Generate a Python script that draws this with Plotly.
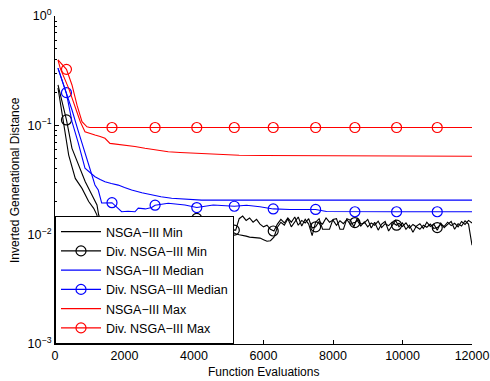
import plotly.graph_objects as go

# ---------------- data ----------------
# Function evaluations / IGD values

# NSGA-III Max (plain red)
max_x = [86, 152, 394, 584, 728, 863, 1000, 1150, 1300, 1438, 1582, 1800, 2013, 2300, 2588, 2900, 3258, 3600, 4026, 4314, 4800, 5300, 6000, 7000, 8000, 9000, 10000, 11000, 12000]
max_y = [0.396, 0.332, 0.218, 0.143, 0.108, 0.0873, 0.0840, 0.0815, 0.0790, 0.0761, 0.0684, 0.0672, 0.0662, 0.0640, 0.0617, 0.0598, 0.0574, 0.0565, 0.0556, 0.0545, 0.0538, 0.0532, 0.0529, 0.0527, 0.0525, 0.0524, 0.0523, 0.0522, 0.0521]

# Div. NSGA-III Max (red with markers)
dmax_x = [86, 330, 489, 633, 777, 920, 1000, 12000]
dmax_y = [0.396, 0.325, 0.234, 0.153, 0.108, 0.0970, 0.0955, 0.0955]

# NSGA-III Median (plain blue)
med_x = [86, 200, 330, 489, 661, 863, 1007, 1150, 1300, 1438, 1620, 1820, 2000, 2206, 2500, 2781, 3050, 3356, 3800, 4219, 5000, 6000, 8000, 10000, 12000]
med_y = [0.334, 0.262, 0.195, 0.108, 0.0707, 0.0406, 0.0372, 0.0339, 0.0320, 0.0305, 0.0294, 0.0284, 0.0270, 0.0256, 0.0242, 0.0230, 0.0222, 0.0215, 0.0210, 0.0207, 0.0207, 0.0207, 0.0207, 0.0207, 0.0207]

# Div. NSGA-III Median (blue with markers)
dmed_x = [86, 330, 489, 661, 863, 1007, 1150, 1245, 1343, 1640, 1918, 2100, 2301, 2396, 2600, 2781, 2880, 3258, 3739, 4080, 4553, 5160, 5513, 5896, 6280, 6759, 7500, 7814, 8630, 9000, 9830, 11000, 12000]
dmed_y = [0.334, 0.199, 0.138, 0.0905, 0.0558, 0.0390, 0.0285, 0.0256, 0.0195, 0.0196, 0.0162, 0.0164, 0.0162, 0.0175, 0.0172, 0.0177, 0.0186, 0.0194, 0.0187, 0.0177, 0.0187, 0.0182, 0.0186, 0.0180, 0.0172, 0.0170, 0.0170, 0.0163, 0.0162, 0.0161, 0.0162, 0.0162, 0.0162]

# NSGA-III Min (plain black)
min_x_early = [86, 200, 394, 584, 777, 969, 1113, 1208, 1257, 1290, 2000, 3000, 4000, 5000]
min_y_early = [0.22, 0.13, 0.0535, 0.0327, 0.0265, 0.0201, 0.0174, 0.0151, 0.0106, 0.0090, 0.0088, 0.0087, 0.0089, 0.0095]
min_y_late = [0.0106, 0.0102, 0.0100, 0.0099, 0.0097, 0.0095, 0.0094, 0.0094, 0.0093, 0.0090,
              0.0087, 0.0088, 0.0095, 0.0117, 0.0130, 0.0122, 0.0140, 0.0118, 0.0132, 0.0145,
              0.0120, 0.0138, 0.0125, 0.0098, 0.0130, 0.0140, 0.0112, 0.0112, 0.0112, 0.0138,
              0.0140, 0.0112, 0.0112, 0.0140, 0.0136, 0.0118, 0.0142, 0.0125, 0.0128, 0.0138,
              0.0115, 0.0130, 0.0110, 0.0125, 0.0132, 0.0108, 0.0120, 0.0135, 0.0118, 0.0128,
              0.0112, 0.0122, 0.0105, 0.0120, 0.0126, 0.0114, 0.0130, 0.0119, 0.0125, 0.0110,
              0.0128, 0.0116, 0.0124, 0.0132, 0.0112, 0.0126, 0.0120, 0.0134, 0.0125, 0.0080]
min_x_late = list(range(5100, 12001, 100))

# Div. NSGA-III Min (black with markers)
dmin_x_early = [86, 200, 330, 489, 682, 871, 1064, 1208, 1257, 1352, 1496, 1640, 2000, 2500, 2880, 3000, 3100, 3200, 3300, 3400]
dmin_y_early = [0.235, 0.165, 0.112, 0.0616, 0.0434, 0.0305, 0.0231, 0.0187, 0.0151, 0.0131, 0.0118, 0.0104, 0.0102, 0.0100, 0.0098, 0.0104, 0.0108, 0.0112, 0.0110, 0.0113]
dmin_y_late = [0.0112, 0.0128, 0.0133, 0.0130, 0.0140, 0.0142, 0.0141, 0.0128, 0.0133, 0.0122,
               0.0130, 0.0125, 0.0135, 0.0120, 0.0132, 0.0125, 0.0115, 0.0110, 0.0140, 0.0148,
               0.0135, 0.0142, 0.0130, 0.0138, 0.0125, 0.0118, 0.0122, 0.0112, 0.0108, 0.0125,
               0.0138, 0.0128, 0.0142, 0.0130, 0.0145, 0.0122, 0.0135, 0.0128, 0.0140, 0.0115,
               0.0118, 0.0132, 0.0125, 0.0142, 0.0130, 0.0136, 0.0122, 0.0134, 0.0126, 0.0138,
               0.0124, 0.0129, 0.0135, 0.0120, 0.0131, 0.0118, 0.0128, 0.0122, 0.0133, 0.0116,
               0.0126, 0.0121, 0.0130, 0.0122, 0.0127, 0.0119, 0.0128, 0.0115, 0.0124, 0.0118,
               0.0112, 0.0122, 0.0117, 0.0125, 0.0114, 0.0116, 0.0124, 0.0119, 0.0130, 0.0121,
               0.0127, 0.0118, 0.0132, 0.0124, 0.0135, 0.0128]
dmin_x_late = list(range(3500, 12001, 100))

# marker positions (function evaluations) shared by all Div. NSGA-III curves
mark_x = [330, 1640, 2880, 4080, 5160, 6280, 7500, 8630, 9830, 11000]
dmax_mark_y = [0.325, 0.0955, 0.0955, 0.0955, 0.0955, 0.0955, 0.0955, 0.0955, 0.0955, 0.0955]
dmed_mark_y = [0.199, 0.0196, 0.0186, 0.0177, 0.0182, 0.0172, 0.0170, 0.0162, 0.0162, 0.0162]
dmin_mark_y = [0.112, 0.0104, 0.0098, 0.0141, 0.0110, 0.0108, 0.0118, 0.0129, 0.0122, 0.0116]

labels = ["NSGA\u2212III Min", "Div. NSGA\u2212III Min", "NSGA\u2212III Median",
          "Div. NSGA\u2212III Median", "NSGA\u2212III Max", "Div. NSGA\u2212III Max"]

ytick_vals = [0.001, 0.01, 0.1, 1]
ytick_text = ["10<sup>\u22123</sup>", "10<sup>\u22122</sup>", "10<sup>\u22121</sup>", "10<sup>0</sup>"]
xtick_vals = [0, 2000, 4000, 6000, 8000, 10000, 12000]
xtick_text = ["0", "2000", "4000", "6000", "8000", "10000", "12000"]

# ---------------- figure ----------------
BLACK, BLUE, RED = "#000000", "#0000ff", "#ff0000"
LW = 1.1
MS = 10


def merged(xa, ya, xm, ym):
    pts = sorted(set(zip(xa, ya)) | set(zip(xm, ym)))
    return [p[0] for p in pts], [p[1] for p in pts]


fig = go.Figure()

min_x = min_x_early + min_x_late
min_y = min_y_early + min_y_late
dmin_x, dmin_y = merged(dmin_x_early + dmin_x_late, dmin_y_early + dmin_y_late, mark_x, dmin_mark_y)


def add_series(x, y, color, name, rank, mx=None, my=None):
    if mx is None:
        fig.add_trace(go.Scatter(x=x, y=y, mode="lines", name=name, legendrank=rank,
                                 line=dict(color=color, width=LW)))
    else:
        fig.add_trace(go.Scatter(x=x, y=y, mode="lines", showlegend=False, hoverinfo="skip",
                                 line=dict(color=color, width=LW)))
        fig.add_trace(go.Scatter(x=mx, y=my, mode="markers", showlegend=False,
                                 marker=dict(symbol="circle-open", size=MS, color=color,
                                             line=dict(width=1.2, color=color))))
        fig.add_trace(go.Scatter(x=[None], y=[None], mode="lines+markers", name=name, legendrank=rank,
                                 line=dict(color=color, width=LW),
                                 marker=dict(symbol="circle-open", size=MS, color=color,
                                             line=dict(width=1.2, color=color))))


add_series(min_x, min_y, BLACK, labels[0], 1)
add_series(dmin_x, dmin_y, BLACK, labels[1], 2, mark_x, dmin_mark_y)
add_series(med_x, med_y, BLUE, labels[2], 3)
add_series(dmed_x, dmed_y, BLUE, labels[3], 4, mark_x, dmed_mark_y)
add_series(max_x, max_y, RED, labels[4], 5)
add_series(dmax_x, dmax_y, RED, labels[5], 6, mark_x, dmax_mark_y)

FONT = "Liberation Sans, Arial, Helvetica, sans-serif"

fig.update_layout(
    width=490, height=381,
    margin=dict(l=55, r=18, t=16, b=37, pad=0, autoexpand=False),
    paper_bgcolor="white", plot_bgcolor="white",
    font=dict(family=FONT, size=12, color="black"),
    showlegend=True,
    legend=dict(x=0, y=0, xanchor="left", yanchor="bottom",
                bgcolor="white", bordercolor="black", borderwidth=1,
                font=dict(family=FONT, size=12.5, color="black"),
                itemwidth=40, tracegroupgap=0),
    xaxis=dict(range=[0, 12000], tickvals=xtick_vals, ticktext=xtick_text, ticks="inside", ticklen=4,
               tickcolor="black", showline=True, linecolor="black", linewidth=1,
               showgrid=False, zeroline=False, mirror=False, automargin=False,
               tickfont=dict(size=12.5)),
    yaxis=dict(type="log", range=[-3, 0], tickvals=ytick_vals, ticktext=ytick_text,
               ticks="inside", ticklen=4, tickcolor="black",
               showline=True, linecolor="black", linewidth=1,
               showgrid=False, zeroline=False, mirror=False, automargin=False,
               tickfont=dict(size=12.5),
               minor=dict(ticks="inside", ticklen=2, tickcolor="black", dtick="D1", showgrid=False)),
    annotations=[
        dict(text="Function Evaluations", xref="paper", yref="paper", x=0.5, y=-0.085,
             xanchor="center", yanchor="middle", showarrow=False, font=dict(size=12)),
        dict(text="Inverted Generational Distance", xref="paper", yref="paper", x=-0.096, y=0.5,
             xanchor="center", yanchor="middle", textangle=-90, showarrow=False, font=dict(size=12)),
    ],
)

fig.write_html("out.html")
